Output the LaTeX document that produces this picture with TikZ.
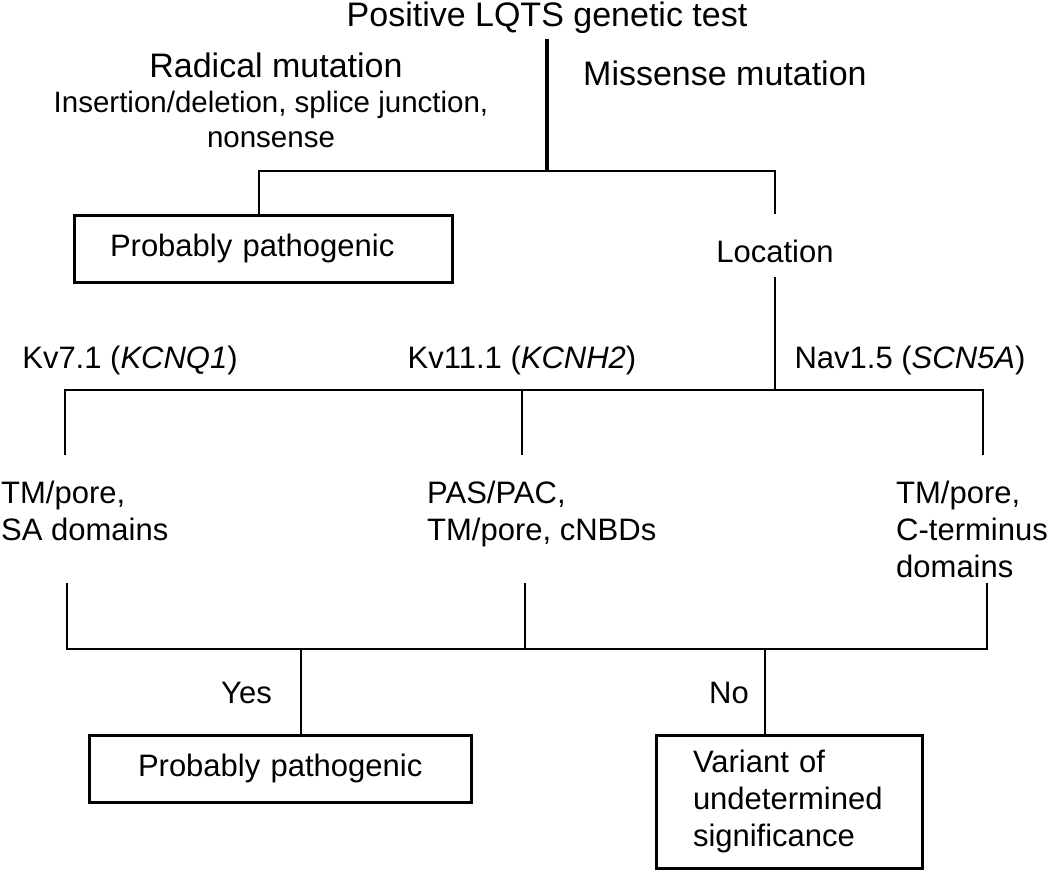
\documentclass[tikz,border=0pt]{standalone}
\usepackage{fontspec}
\setmainfont{Liberation Sans}

\begin{document}
\begin{tikzpicture}[x=1pt,y=-1pt,
	line/.style={line width=2.6pt},
	stem/.style={line width=4pt},
	big/.style={font=\fontsize{34}{40}\selectfont,inner sep=0pt},
	txt/.style={font=\fontsize{31}{37}\selectfont,inner sep=0pt},
	box/.style={txt,draw,line width=3pt,align=left,minimum height=67pt}]
	\useasboundingbox (0,0) rectangle (1050,870);

	% first split
	\node[big,anchor=base] (title) at (547,26) {Positive LQTS genetic test};
	\node[big,anchor=base] (radical) at (276,77) {Radical mutation};
	\node[txt,font=\fontsize{29.5}{35}\selectfont,align=center,anchor=base] (radicalnote) at (271,147) {Insertion/deletion, splice junction,\\nonsense};
	\node[big,anchor=base west] (missense) at (583,85) {Missense mutation};
	\node[box,text width=306pt,inner xsep=36pt,anchor=north] (probpath) at (263,213.5) {Probably pathogenic};
	\node[txt,anchor=base,text height=48pt,text depth=15pt] (location) at (775,262) {Location};
	\coordinate (stemtop) at (547,39);
	\coordinate (split) at (547,171);
	\coordinate (radicalfoot) at (259,171);
	\draw[stem] (stemtop) -- (split);
	\draw[line] (probpath.north -| radicalfoot) -- (radicalfoot) -| (location.north);

	% channels
	\node[txt,anchor=base] (kvq) at (130,368) {Kv7.1 (\textit{KCNQ1})};
	\node[txt,anchor=base] (kvh) at (522,368) {Kv11.1 (\textit{KCNH2})};
	\node[txt,anchor=base] (nav) at (910,368) {Nav1.5 (\textit{SCN5A})};
	\coordinate (qtop) at (65,390);
	\coordinate (htop) at (522,390);
	\coordinate (ntop) at (983,390);
	\coordinate (qdrop) at (65,455);
	\coordinate (hdrop) at (522,455);
	\coordinate (ndrop) at (983,455);
	\draw[line] (location.south) -- (location.south |- qtop);
	\draw[line] (qdrop) -- (qtop) -- (ntop) -- (ndrop);
	\draw[line] (htop) -- (hdrop);

	% domains
	\node[txt,align=left,anchor=base west] (domq) at (1,540) {TM/pore,\\SA domains};
	\node[txt,align=left,anchor=base west] (domh) at (427,540) {PAS/PAC,\\TM/pore, cNBDs};
	\node[txt,align=left,anchor=base west] (domn) at (896,577) {TM/pore,\\C-terminus\\domains};
	\coordinate (qrise) at (67,583);
	\coordinate (hrise) at (525,583);
	\coordinate (nrise) at (987,583);
	\coordinate (qbot) at (67,649);
	\coordinate (hbot) at (525,649);
	\coordinate (nbot) at (987,649);
	\draw[line] (qrise) -- (qbot) -- (nbot) -- (nrise);
	\draw[line] (hrise) -- (hbot);

	% outcome
	\node[box,text width=285pt,inner xsep=48.5pt,anchor=north] (probpathb) at (280.5,733.5) {Probably pathogenic};
	\node[box,text width=193pt,inner xsep=36.5pt,minimum height=133pt,anchor=north] (vus) at (789.5,733.5) {Variant of\\undetermined\\significance};
	\coordinate (yesfork) at (301,649);
	\coordinate (nofork) at (765,649);
	\node[txt,anchor=base east] (yes) at (272,703) {Yes};
	\node[txt,anchor=base east] (no) at (749,703) {No};
	\draw[line] (yesfork) -- (yesfork |- probpathb.north);
	\draw[line] (nofork) -- (nofork |- vus.north);

\end{tikzpicture}
\end{document}
